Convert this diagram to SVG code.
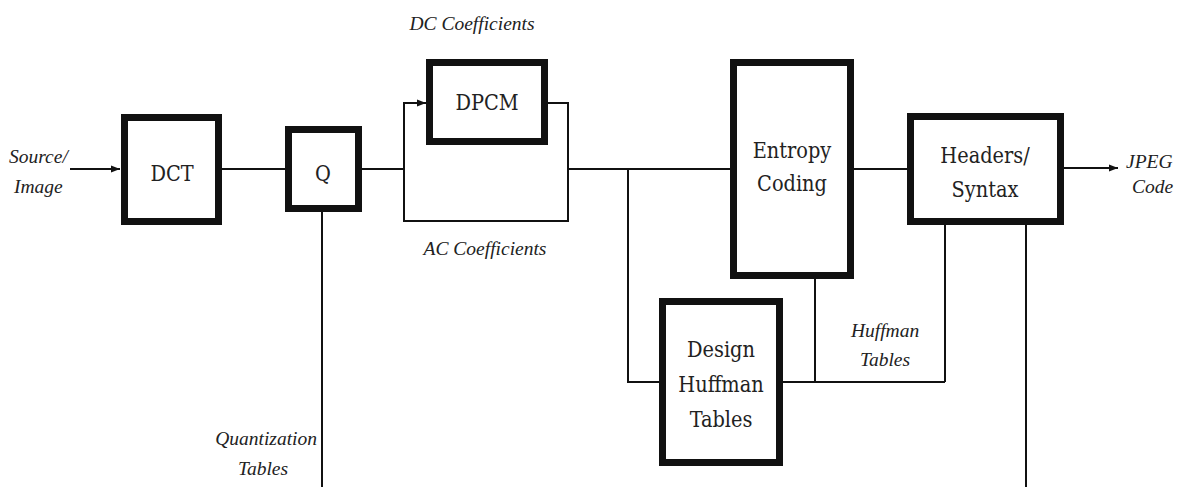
<svg xmlns="http://www.w3.org/2000/svg" width="1186" height="487" viewBox="0 0 1186 487">
<defs>
<marker id="ah" viewBox="0 0 10 10" refX="10" refY="5" markerWidth="9" markerHeight="9" markerUnits="userSpaceOnUse" orient="auto">
<path d="M0,1 L10,5 L0,9 z" fill="#111"/>
</marker>
<style>
.box{fill:#fff;stroke:#111;stroke-width:7}
.bt{font-family:"DejaVu Serif Condensed","DejaVu Serif",serif;font-stretch:condensed;font-size:21.5px;fill:#222;text-anchor:middle}
.lb{font-family:"Liberation Serif","Times New Roman","DejaVu Serif",serif;font-style:italic;font-size:19.5px;fill:#222}
.ln{fill:none;stroke:#111;stroke-width:2}
</style>
</defs>
<rect width="1186" height="487" fill="#fff"/>
<g id="connectors">
<line class="ln" x1="70" y1="169" x2="120" y2="169" marker-end="url(#ah)"/>
<line class="ln" x1="222" y1="169" x2="285" y2="169"/>
<line class="ln" x1="362" y1="169" x2="404" y2="169"/>
<polyline class="ln" points="404,221 404,103 426,103" marker-end="url(#ah)"/>
<polyline class="ln" points="404,169 404,221 568,221 568,103 548,103"/>
<line class="ln" x1="568" y1="169" x2="730" y2="169"/>
<polyline class="ln" points="628,169 628,382 659,382"/>
<line class="ln" x1="854" y1="169" x2="907" y2="169"/>
<line class="ln" x1="1064" y1="168" x2="1118" y2="168" marker-end="url(#ah)"/>
<line class="ln" x1="322" y1="212" x2="322" y2="487"/>
<line class="ln" x1="783" y1="382" x2="945" y2="382"/>
<line class="ln" x1="815" y1="382" x2="815" y2="279"/>
<line class="ln" x1="945" y1="382" x2="945" y2="225"/>
<line class="ln" x1="1026" y1="225" x2="1026" y2="487"/>
</g>
<g id="dct"><rect class="box" x="124.5" y="117.5" width="94" height="104"/><text class="bt" x="172" y="181">DCT</text></g>
<g id="q"><rect class="box" x="288.5" y="129.5" width="70" height="79"/><text class="bt" x="323" y="181">Q</text></g>
<g id="dpcm"><rect class="box" x="429.5" y="62.5" width="115" height="79"/><text class="bt" x="487" y="110">DPCM</text></g>
<g id="entropy"><rect class="box" x="733.5" y="62.5" width="117" height="213"/><text class="bt" x="792" y="158">Entropy</text><text class="bt" x="792" y="191">Coding</text></g>
<g id="huffman"><rect class="box" x="662.5" y="301.5" width="117" height="161"/><text class="bt" x="721" y="357">Design</text><text class="bt" x="721" y="392">Huffman</text><text class="bt" x="721" y="427">Tables</text></g>
<g id="headers"><rect class="box" x="910.5" y="116.5" width="150" height="105"/><text class="bt" x="985" y="163">Headers/</text><text class="bt" x="985" y="197">Syntax</text></g>
<g id="labels">
<text class="lb" x="472" y="30" text-anchor="middle">DC Coefficients</text>
<text class="lb" x="485" y="255" text-anchor="middle">AC Coefficients</text>
<text class="lb" x="9" y="163">Source/</text>
<text class="lb" x="14" y="193">Image</text>
<text class="lb" x="1126" y="168">JPEG</text>
<text class="lb" x="1132" y="193">Code</text>
<text class="lb" x="317" y="445" text-anchor="end">Quantization</text>
<text class="lb" x="263" y="475" text-anchor="middle">Tables</text>
<text class="lb" x="885" y="337" text-anchor="middle">Huffman</text>
<text class="lb" x="885" y="366" text-anchor="middle">Tables</text>
</g>
</svg>
